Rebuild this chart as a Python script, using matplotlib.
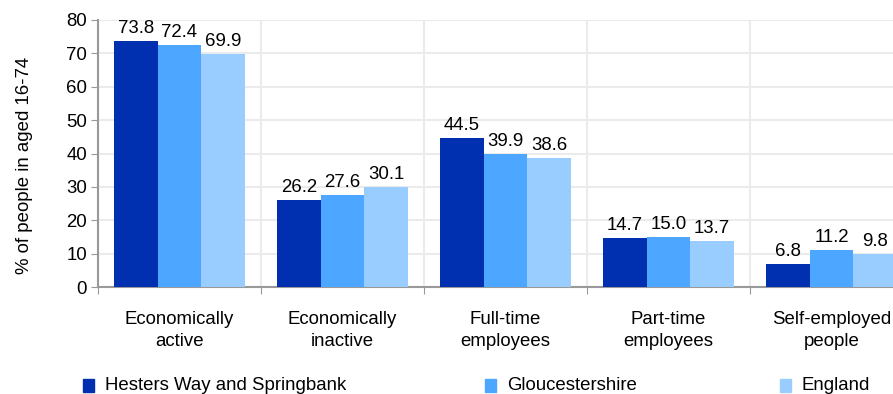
import matplotlib
matplotlib.use("Agg")
import matplotlib.pyplot as plt
import numpy as np

categories = ["Economically\nactive", "Economically\ninactive", "Full-time\nemployees",
              "Part-time\nemployees", "Self-employed\npeople"]
series_names = ["Hesters Way and Springbank", "Gloucestershire", "England"]
hesters = [73.8, 26.2, 44.5, 14.7, 6.8]
glos = [72.4, 27.6, 39.9, 15.0, 11.2]
england = [69.9, 30.1, 38.6, 13.7, 9.8]
colors = ["#0030B0", "#4DA6FF", "#99CCFF"]

FS = 13.4
plt.rcParams['font.family'] = ['Liberation Sans', 'DejaVu Sans']
fig = plt.figure(figsize=(8.93, 3.94), dpi=100)
ax = fig.add_axes([98/893, 1-287/394, (913-98)/893, (287-20)/394])

x = np.arange(len(categories))
w = 0.267
for i, (vals, c) in enumerate(zip([hesters, glos, england], colors)):
    xs = x + (i - 1) * w
    ax.bar(xs, vals, width=w, color=c, zorder=3, label=series_names[i])
    for xi, v in zip(xs, vals):
        ax.text(xi, v + 1.2, f"{v:.1f}", ha="center", va="bottom", fontsize=FS, zorder=4)

ax.set_xlim(-0.5, len(categories) - 0.5)
ax.set_ylim(0, 80)
ax.set_yticks(range(0, 81, 10))
ax.set_xticks(np.arange(-0.5, len(categories), 1.0))
ax.set_xticklabels([])
ax.set_xticks(x, minor=True)
ax.set_xticklabels(categories, minor=True, fontsize=FS, linespacing=1.45)
ax.tick_params(axis="x", which="minor", length=0, pad=17)
ax.tick_params(axis="x", which="major", length=5, color="#999999", direction="out")
ax.tick_params(axis="y", length=5, color="#999999", labelsize=FS, pad=3)
ax.grid(True, axis="y", color="#EBEBEB", linewidth=1.5, zorder=0)
ax.grid(True, axis="x", which="major", color="#EBEBEB", linewidth=1.5, zorder=0)
for s in ["top", "right"]:
    ax.spines[s].set_visible(False)
for s in ["left", "bottom"]:
    ax.spines[s].set_color("#999999")
    ax.spines[s].set_linewidth(1.5)
fig.text(25/893, 1-165/394, "% of people in aged 16-74", fontsize=FS, rotation=90,
         ha="center", va="center")

legx = [83/893, 485/893, 780/893]
for hx, c, name in zip(legx, colors, series_names):
    fig.patches.append(matplotlib.patches.Rectangle((hx, 1-392/394), 11/893, 13/394,
                                                    transform=fig.transFigure, color=c))
    fig.text(hx + 22/893, 1-385/394, name, fontsize=FS, va="center", ha="left")

fig.savefig("out.png", dpi=100)
